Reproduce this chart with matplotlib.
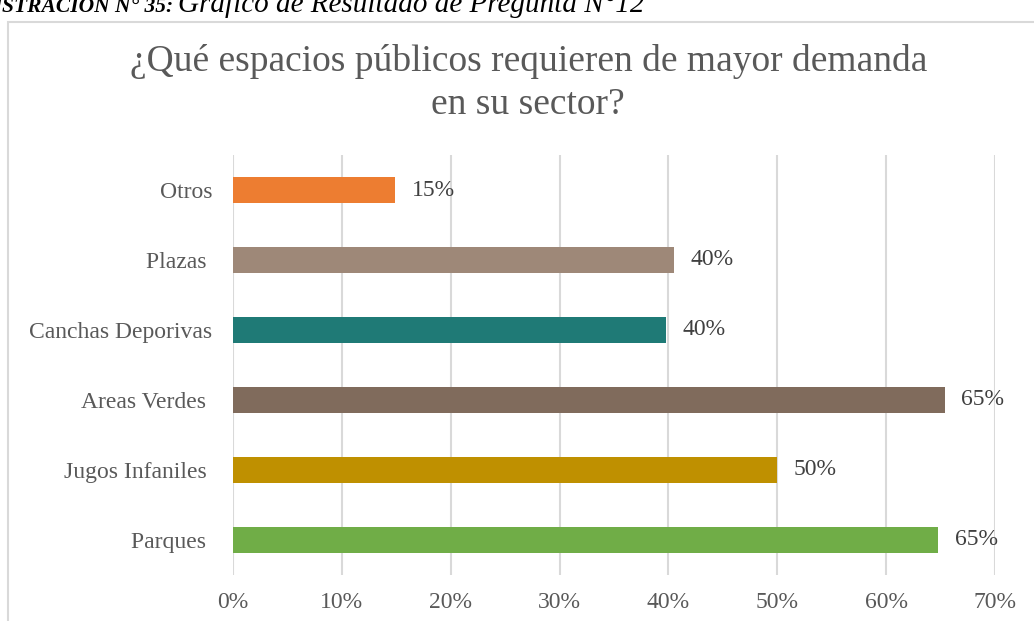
import matplotlib
matplotlib.use("Agg")
import matplotlib.pyplot as plt
from matplotlib.patches import Rectangle
from matplotlib.ticker import FuncFormatter

# data (bottom to top)
categorias = ["Parques ", "Jugos Infaniles ", "Areas Verdes ", "Canchas Deporivas", "Plazas ", "Otros"]
valores = [64.8, 50.0, 65.4, 39.8, 40.5, 14.9]
etiquetas = ["65%", "50%", "65%", "40%", "40%", "15%"]
colores = ["#70AD47", "#BF9000", "#806B5C", "#1F7A76", "#9E8878", "#ED7D31"]
ticks_x = [0, 10, 20, 30, 40, 50, 60, 70]

plt.rcParams['font.family'] = ['Liberation Serif', 'DejaVu Serif']
gris = "#595959"

fig = plt.figure(figsize=(10.34, 6.21), dpi=100)
ax = fig.add_axes([0.2253, 0.0741, 0.737, 0.6763])

pos = list(range(len(categorias)))
ax.barh(pos, valores, height=0.36, color=colores, zorder=3)
for p, v, t in zip(pos, valores, etiquetas):
    ax.text(v + 1.5, p, t, va="center", ha="left", fontsize=17, color="#404040")

ax.set_xlim(0, 70)
ax.set_ylim(-0.5, 5.5)
ax.set_xticks(ticks_x)
ax.xaxis.set_major_formatter(FuncFormatter(lambda x, _: "%d%%" % x))
ax.set_yticks(pos)
ax.set_yticklabels(categorias)
ax.tick_params(axis="both", length=0, labelsize=17, labelcolor=gris)
ax.tick_params(axis="x", pad=12)
ax.tick_params(axis="y", pad=15)
ax.grid(axis="x", color="#D9D9D9", linewidth=1.5, zorder=0)
for s in ax.spines.values():
    s.set_visible(False)

fig.text(0.511, 0.866, u"¿Qué espacios públicos requieren de mayor demanda\nen su sector?",
         ha="center", va="center", fontsize=27, color=gris, linespacing=1.3)

# caption cut at the top of the page
fig.text(173 / 1034, 1 - 12 / 621, u"ILUSTRACIÓN N° 35:", ha="right", va="baseline", fontsize=15.5,
         fontweight="bold", fontstyle="italic", color="black")
fig.text(178 / 1034, 1 - 12 / 621, u"Gráfico de Resultado de Pregunta N°12", ha="left", va="baseline",
         fontsize=21, fontstyle="italic", color="black")

# chart frame
fig.patches.append(Rectangle((8 / 1034, -0.1), 1.2, 1.1 - 22 / 621, transform=fig.transFigure,
                             fill=False, edgecolor="#D9D9D9", linewidth=1.5))

fig.savefig("out.png", dpi=100)
